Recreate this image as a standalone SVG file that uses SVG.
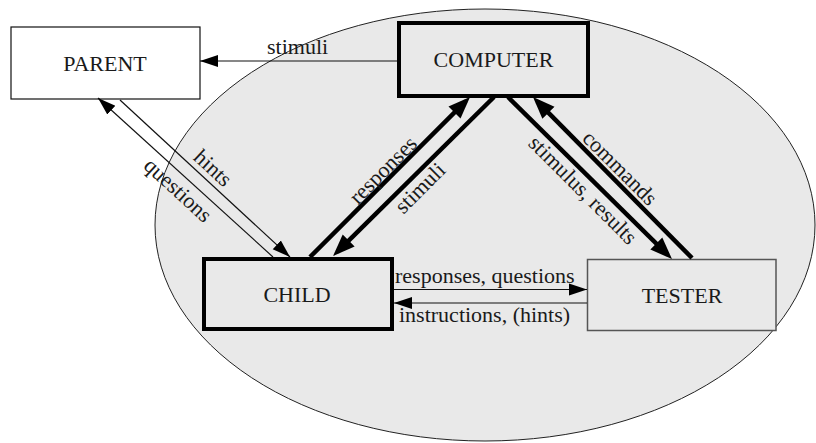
<svg xmlns="http://www.w3.org/2000/svg" width="816" height="443" viewBox="0 0 816 443">
<style>
text{font-family:"Liberation Serif","Times New Roman",serif;font-size:22px;fill:#1a1a1a}
.lbl{text-anchor:middle}
.node{text-anchor:middle}
.thick{stroke:#000;stroke-width:4.5;fill:none}
.thin{stroke:#111;stroke-width:1.2;fill:none}
</style>
<defs>
<marker id="bigHead" markerUnits="userSpaceOnUse" markerWidth="24" markerHeight="20" viewBox="0 -10 24 20" refX="16" refY="0" orient="auto">
<path d="M0,-8.5 L22,0 L0,8.5 z" fill="#000"/>
</marker>
<marker id="smallHead" markerUnits="userSpaceOnUse" markerWidth="20" markerHeight="14" viewBox="0 -7 20 14" refX="18" refY="0" orient="auto">
<path d="M0,-6 L18,0 L0,6 z" fill="#000"/>
</marker>
</defs>
<rect width="816" height="443" fill="#fff"/>
<g id="system">
<ellipse cx="485" cy="225" rx="330" ry="216" fill="#e9e9e9" stroke="#222" stroke-width="1"/>
</g>
<g id="parent">
<rect x="11" y="27" width="189" height="72" fill="#fff" stroke="#111" stroke-width="1.2"/>
<text class="node" x="105" y="71">PARENT</text>
</g>
<g id="computer">
<rect x="399" y="23" width="189" height="73" fill="#e9e9e9" stroke="#000" stroke-width="4"/>
<text class="node" x="493.5" y="67">COMPUTER</text>
</g>
<g id="child">
<rect x="204" y="259" width="188" height="70" fill="#e9e9e9" stroke="#000" stroke-width="4"/>
<text class="node" x="297" y="302">CHILD</text>
</g>
<g id="tester">
<rect x="587.5" y="259.5" width="188.5" height="71" fill="#e9e9e9" stroke="#555" stroke-width="1.5"/>
<text class="node" x="682" y="303">TESTER</text>
</g>
<g id="connectors">
<path class="thin" d="M397,61 H200" marker-end="url(#smallHead)"/>
<path class="thin" d="M394,289.5 H587" marker-end="url(#smallHead)"/>
<path class="thin" d="M587,303 H394" stroke="#444" marker-end="url(#smallHead)"/>
<path class="thin" d="M273,257 L98,98" stroke-width="1" marker-end="url(#smallHead)"/>
<path class="thin" d="M120,100 L290,257" stroke-width="1" marker-end="url(#smallHead)"/>
<path class="thick" d="M310,257 L465.8,101.2" marker-end="url(#bigHead)"/>
<path class="thick" d="M494,97 L337.3,251.8" marker-end="url(#bigHead)"/>
<path class="thick" d="M508,97 L667.7,254.8" marker-end="url(#bigHead)"/>
<path class="thick" d="M692,258 L537.2,101.3" marker-end="url(#bigHead)"/>
<text x="267" y="54">stimuli</text>
<text x="395" y="283">responses, questions</text>
<text x="399" y="322">instructions, (hints)</text>
<text class="lbl" x="213" y="168" dy="0.33em" transform="rotate(42.6 213 168)">hints</text>
<text class="lbl" x="178" y="190" dy="0.33em" transform="rotate(42.6 178 190)">questions</text>
<text class="lbl" x="383" y="170" dy="0.33em" transform="rotate(-45 383 170)">responses</text>
<text class="lbl" x="420" y="188" dy="0.33em" transform="rotate(-45 420 188)">stimuli</text>
<text class="lbl" x="620" y="168" dy="0.33em" transform="rotate(45 620 168)">commands</text>
<text class="lbl" x="583" y="190" dy="0.33em" transform="rotate(45 583 190)">stimulus, results</text>
</g>
</svg>
